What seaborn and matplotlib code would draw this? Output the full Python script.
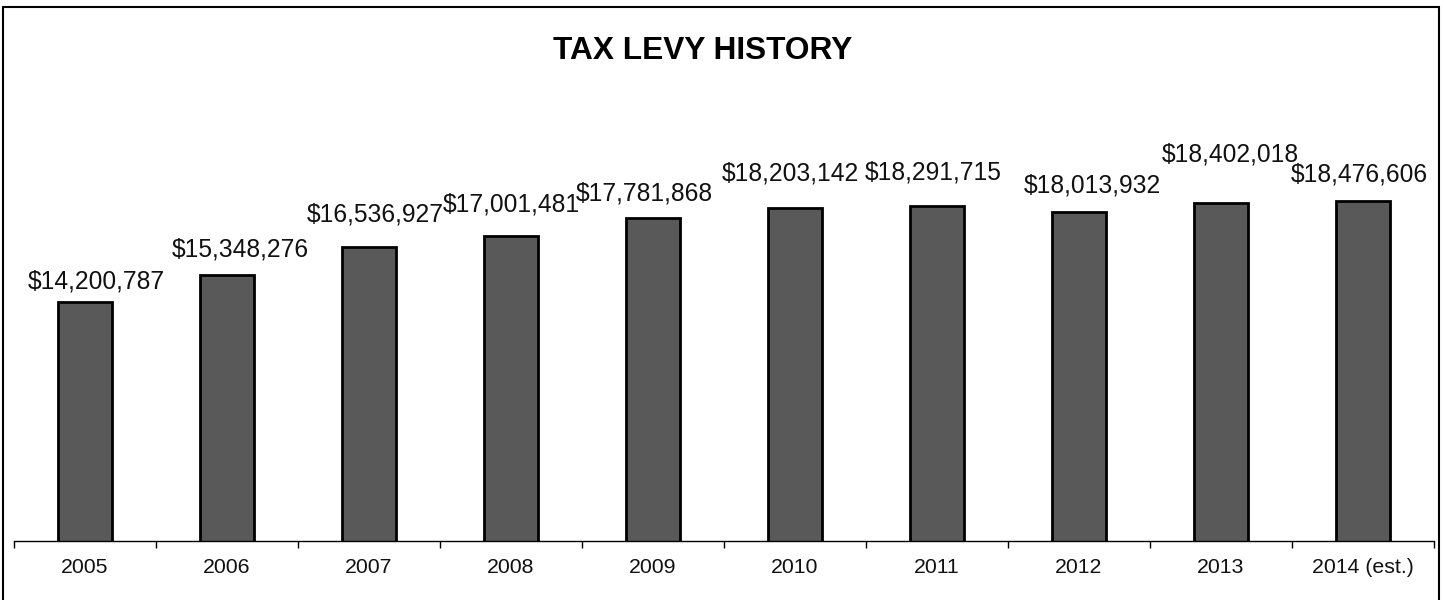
import matplotlib
matplotlib.use("Agg")
import matplotlib.pyplot as plt
import matplotlib.patches as mpatches
import seaborn as sns
import pandas as pd

# Tax levy by year
years = ["2005", "2006", "2007", "2008", "2009", "2010", "2011", "2012", "2013", "2014 (est.)"]
levy = [14200787, 15348276, 16536927, 17001481, 17781868,
        18203142, 18291715, 18013932, 18402018, 18476606]

# Per-label nudges in pixels (horizontal, gap above bar top)
label_dx = [11, 13, 6, 0, -9, -5, -4, 13, 9, -4]
label_gap = [14, 19, 26, 25, 17, 27, 26, 20, 42, 20]

sns.set_theme(style="white")
plt.rcParams["font.family"] = ["Liberation Sans", "DejaVu Sans"]

W, H, DPI = 1444, 600, 100
fig = plt.figure(figsize=(W / DPI, H / DPI), dpi=DPI)
fig.patch.set_facecolor("white")

y_min, y_max = 4.1e6, 20e6
px_per_unit = 23.62 / 1e6
ax_left, ax_right, ax_base = 14, 1434, 541
ax_h = (y_max - y_min) * px_per_unit
ax = fig.add_axes([ax_left / W, (H - ax_base) / H, (ax_right - ax_left) / W, ax_h / H])

df = pd.DataFrame({"year": years, "levy": levy})
sns.barplot(data=df, x="year", y="levy", color="#595959", saturation=1,
            edgecolor="black", linewidth=2, width=0.385, ax=ax)

ax.set_xlim(-0.5, len(years) - 0.5)
ax.set_ylim(y_min, y_max)
ax.set_xlabel("")
ax.set_ylabel("")
ax.set_yticks([])
for side in ("left", "right", "top"):
    ax.spines[side].set_visible(False)
ax.spines["bottom"].set_color("black")
ax.spines["bottom"].set_linewidth(1.0)

# Category labels centred, tick marks on category boundaries
ax.set_xticks(range(len(years)))
ax.set_xticklabels(years, fontsize=15.3, color="#111111")
ax.set_xticks([i - 0.5 for i in range(len(years) + 1)], minor=True)
ax.tick_params(axis="x", which="major", length=0, pad=12)
ax.tick_params(axis="x", which="minor", length=5, width=1.0, color="black",
               direction="out", bottom=True)

for i, v in enumerate(levy):
    ax.annotate(f"${v:,.0f}", xy=(i, v),
                xytext=(label_dx[i] * 72 / DPI, label_gap[i] * 72 / DPI),
                textcoords="offset points", ha="center", va="baseline",
                fontsize=17.7, color="#111111", annotation_clip=False)

fig.text(702.5 / W, (H - 59) / H, "TAX LEVY HISTORY", ha="center", va="baseline",
         fontsize=22.8, fontweight="bold", color="black")

# Chart frame
frame = mpatches.Rectangle((3.5 / W, -0.1), (1439 - 3.5) / W, (H - 7.5) / H + 0.1,
                           transform=fig.transFigure, fill=False,
                           edgecolor="black", linewidth=1.5, clip_on=False)
fig.patches.append(frame)

fig.savefig("out.png", dpi=DPI)
